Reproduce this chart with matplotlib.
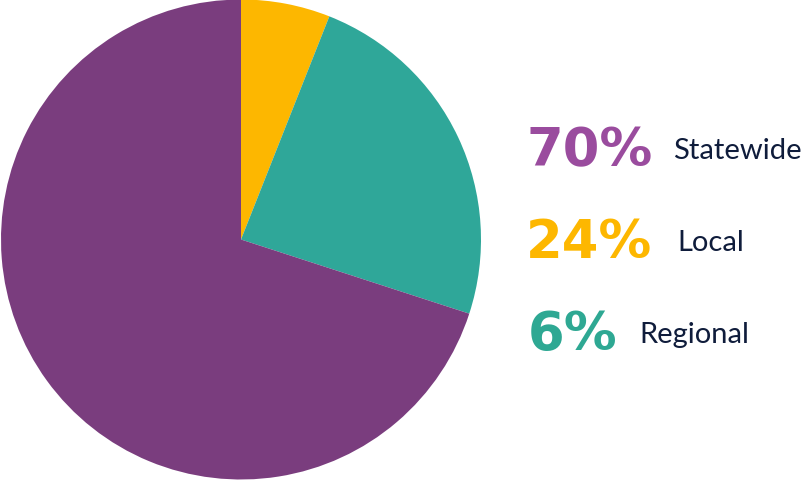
import matplotlib
matplotlib.use("Agg")
import matplotlib.pyplot as plt

# pie slices, clockwise from 12 o'clock
slice_values = [6, 24, 70]
slice_colors = ["#fdb700", "#2fa799", "#7a3d7e"]

# legend text on the right
pct_labels = ["70%", "24%", "6%"]
pct_colors = ["#9a4c9e", "#fdb700", "#2ea893"]
names = ["Statewide", "Local", "Regional"]
label_color = "#0f1c3b"

W, H = 802, 481
fig = plt.figure(figsize=(W / 100, H / 100), dpi=100)

ax = fig.add_axes([1 / W, 0.5 / H, 480 / W, 480 / H])
ax.pie(slice_values, colors=slice_colors, startangle=90, counterclock=False,
       radius=1, wedgeprops=dict(linewidth=0))
ax.set_xlim(-1, 1)
ax.set_ylim(-1, 1)
ax.set_aspect("equal")
ax.axis("off")

# (percent x, name x, center y) in pixels
rows = [(526, 673, 150), (526, 677, 242), (528, 639, 334)]
for (px, nx, cy), pct, pc, name in zip(rows, pct_labels, pct_colors, names):
    fig.text(px / W, 1 - (cy + 1) / H, pct, color=pc, fontsize=38,
             fontfamily="DejaVu Sans", fontweight="bold", va="center", ha="left")
    fig.text(nx / W, 1 - (cy + 1) / H, name, color=label_color, fontsize=21,
             fontfamily="Lato", va="center", ha="left")

fig.savefig("out.png", dpi=100)
